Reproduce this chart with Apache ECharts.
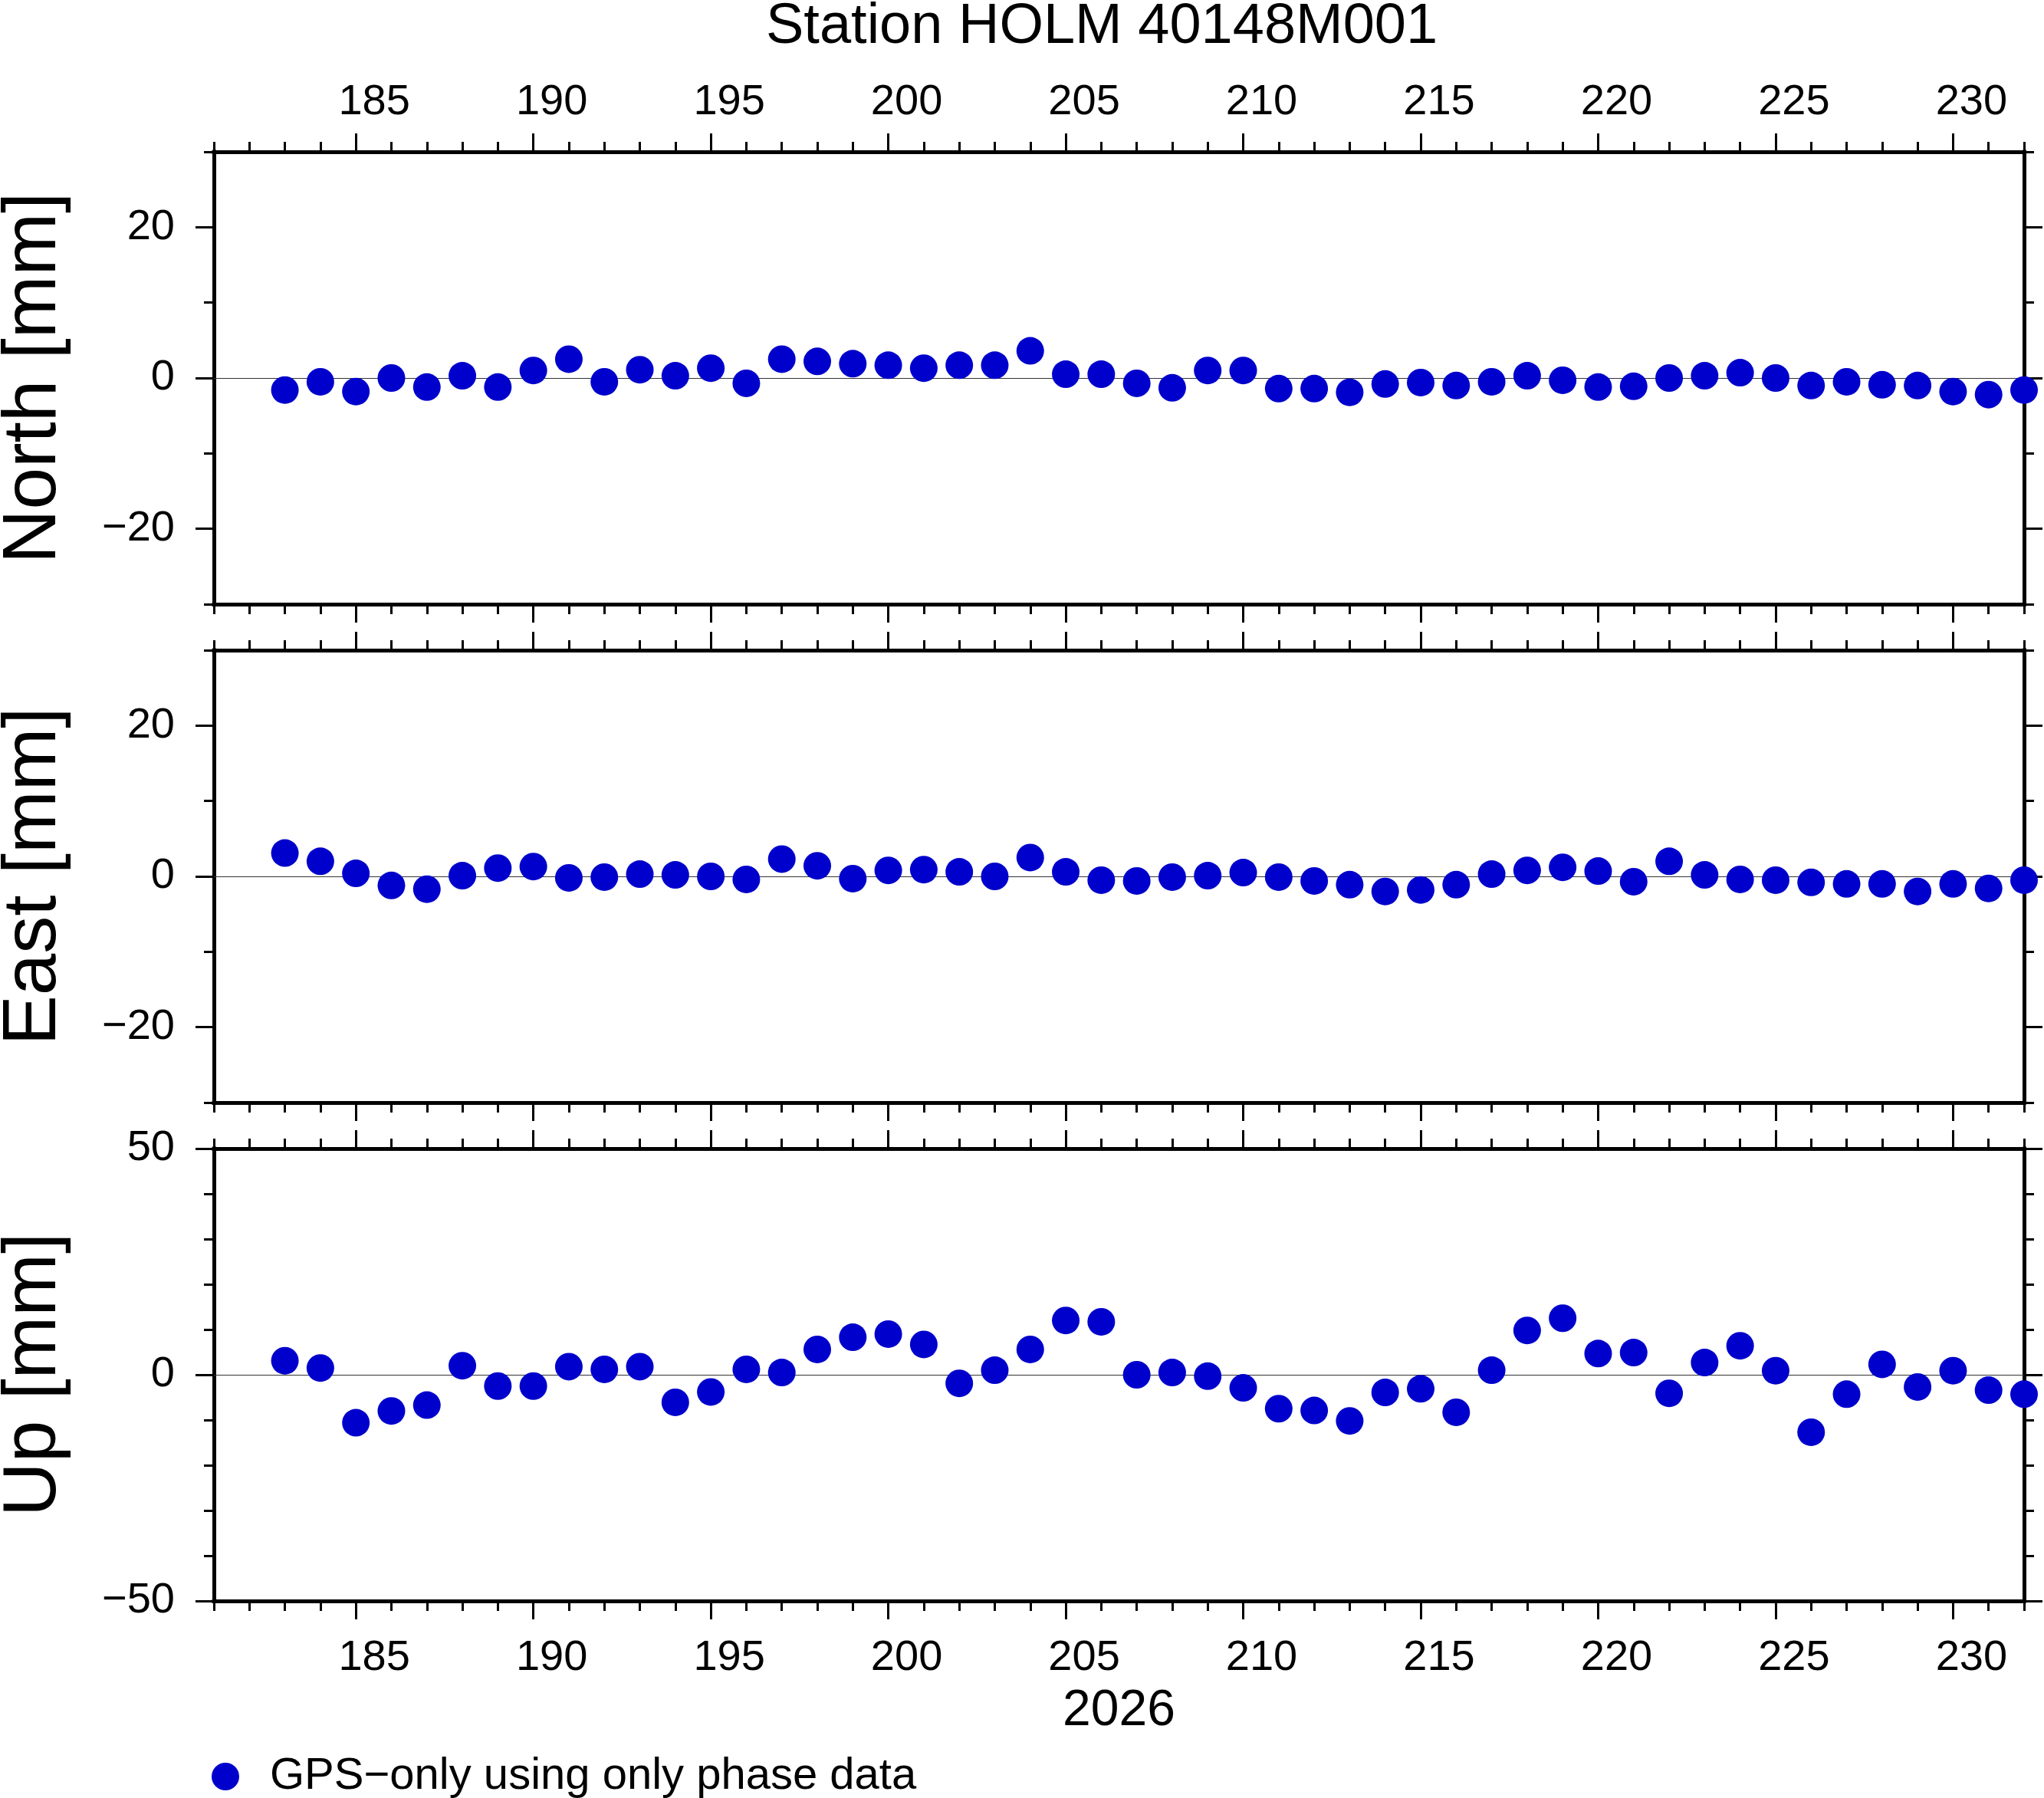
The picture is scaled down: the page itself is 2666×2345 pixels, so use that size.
<!DOCTYPE html>
<html>
<head>
<meta charset="utf-8">
<title>Station HOLM 40148M001</title>
<script src="https://cdn.jsdelivr.net/npm/echarts@6/dist/echarts.min.js"></script>
<style>
html, body { margin: 0; padding: 0; background: #fff; }
#chart { width: 2666px; height: 2345px; }
</style>
</head>
<body>
<div id="chart"></div>
<script>
var dom = document.getElementById("chart");
var myChart = echarts.init(dom);

// day of year 2026
var days = [183, 184, 185, 186, 187, 188, 189, 190, 191, 192,
    193, 194, 195, 196, 197, 198, 199, 200, 201, 202,
    203, 204, 205, 206, 207, 208, 209, 210, 211, 212,
    213, 214, 215, 216, 217, 218, 219, 220, 221, 222,
    223, 224, 225, 226, 227, 228, 229, 230, 231, 232];

var north = [-1.6, -0.5, -1.8, 0.0, -1.2, 0.3, -1.2, 1.0, 2.5, -0.5,
    1.1, 0.3, 1.3, -0.7, 2.5, 2.2, 1.9, 1.7, 1.3, 1.7,
    1.7, 3.6, 0.5, 0.5, -0.7, -1.3, 1.0, 1.0, -1.4, -1.4,
    -1.9, -0.8, -0.6, -1.0, -0.5, 0.3, -0.3, -1.2, -1.1, 0.0,
    0.3, 0.7, 0.0, -1.0, -0.5, -0.9, -1.0, -1.8, -2.2, -1.6];

var east = [3.1, 2.0, 0.4, -1.2, -1.7, 0.1, 1.1, 1.3, -0.2, -0.1,
    0.3, 0.2, 0.0, -0.4, 2.3, 1.4, -0.3, 0.8, 0.9, 0.6,
    0.0, 2.5, 0.6, -0.5, -0.6, -0.1, 0.1, 0.5, -0.1, -0.6,
    -1.1, -2.0, -1.8, -1.1, 0.3, 0.8, 1.2, 0.7, -0.7, 2.0,
    0.2, -0.4, -0.5, -0.8, -1.0, -1.0, -2.0, -1.0, -1.6, -0.5];

var up = [3.1, 1.5, -10.6, -8.0, -6.7, 2.0, -2.5, -2.5, 1.8, 1.2,
    1.8, -6.1, -3.8, 1.2, 0.5, 5.6, 8.3, 9.0, 6.7, -1.9,
    1.0, 5.6, 12.0, 11.7, 0.0, 0.5, -0.3, -2.9, -7.5, -7.9,
    -10.2, -3.9, -3.1, -8.3, 1.0, 9.8, 12.5, 4.7, 4.9, -4.1,
    2.7, 6.4, 0.9, -12.7, -4.3, 2.3, -2.7, 0.9, -3.4, -4.3];

var majorDays = [185, 190, 195, 200, 205, 210, 215, 220, 225, 230];
var panelNames = ['North [mm]', 'East [mm]', 'Up [mm]'];
var panelData = [north, east, up];
var panelRange = [30, 30, 50];
var panelMajor = [[-20, 0, 20], [-20, 0, 20], [-50, 0, 50]];

var FONT = 'Liberation Sans';
var gridTops = [198, 848, 1498];
var gridH = 590;

function minus(v) {
    return v < 0 ? '\u2212' + Math.abs(v) : String(v);
}

var grids = [], xAxes = [], yAxes = [], series = [];
var lineSt = { color: '#000', width: 5, cap: 'square' };

for (var i = 0; i < 3; i++) {
    grids.push({ left: 279, width: 2361, top: gridTops[i], height: gridH,
        containLabel: false, outerBoundsMode: 'none' });

    ['bottom', 'top'].forEach(function (pos) {
        var showLab = (pos === 'top' && i === 0) || (pos === 'bottom' && i === 2);
        // minor ticks every day + frame line
        xAxes.push({
            gridIndex: i, type: 'value', position: pos, min: 181, max: 232, interval: 1,
            axisLine: { show: true, onZero: false, lineStyle: lineSt },
            axisTick: { show: true, inside: false, length: 13, lineStyle: { color: '#000', width: 3 } },
            axisLabel: { show: false },
            splitLine: { show: false }
        });
        // major ticks every 5 days, labels centred on the day interval
        xAxes.push({
            gridIndex: i, type: 'value', position: pos, min: 181, max: 232,
            axisLine: { show: false, onZero: false },
            axisTick: { show: true, inside: false, length: 24, customValues: majorDays,
                lineStyle: { color: '#000', width: 3 } },
            axisLabel: { show: showLab, customValues: majorDays, margin: pos === 'top' ? 36 : 47,
                padding: [0, 0, 0, 48],
                fontFamily: FONT, fontSize: 56, color: '#000' },
            splitLine: { show: false },
            name: (pos === 'bottom' && i === 2) ? '2026' : '',
            nameLocation: 'middle', nameGap: 111,
            nameTextStyle: { fontFamily: FONT, fontSize: 66, color: '#000' }
        });
    });

    ['left', 'right'].forEach(function (pos) {
        var r = panelRange[i];
        yAxes.push({
            gridIndex: i, type: 'value', position: pos, min: -r, max: r, interval: 10,
            axisLine: { show: true, onZero: false, lineStyle: lineSt },
            axisTick: { show: true, inside: false, length: 13, lineStyle: { color: '#000', width: 3 } },
            axisLabel: { show: false },
            splitLine: { show: false }
        });
        yAxes.push({
            gridIndex: i, type: 'value', position: pos, min: -r, max: r,
            axisLine: { show: false, onZero: false },
            axisTick: { show: true, inside: false, length: 24, customValues: panelMajor[i],
                lineStyle: { color: '#000', width: 3 } },
            axisLabel: { show: pos === 'left', customValues: panelMajor[i], margin: 51,
                padding: [4, 0, 0, 0],
                formatter: minus, fontFamily: FONT, fontSize: 56, color: '#000' },
            splitLine: { show: false },
            name: pos === 'left' ? panelNames[i] : '',
            nameLocation: 'middle', nameGap: 185,
            nameTextStyle: { fontFamily: FONT, fontSize: 98, color: '#000' }
        });
    });

    var pts = [];
    for (var k = 0; k < days.length; k++) pts.push([days[k], panelData[i][k]]);

    series.push({
        name: 'GPS\u2212only using only phase data',
        type: 'scatter',
        xAxisIndex: i * 4,
        yAxisIndex: i * 4,
        data: pts,
        symbol: 'circle',
        symbolSize: 36,
        clip: false,
        itemStyle: { color: '#0000cc', opacity: 1 },
        markLine: {
            silent: true, z: 1,
            symbol: ['none', 'none'],
            label: { show: false },
            lineStyle: { color: '#333', width: 1.2, type: 'solid' },
            data: [{ yAxis: 0 }]
        }
    });
}

var option = {
    backgroundColor: '#fff',
    animation: false,
    title: {
        text: 'Station HOLM 40148M001',
        left: 994, top: -6,
        textStyle: { fontFamily: FONT, fontSize: 74, fontWeight: 'normal', color: '#000' }
    },
    legend: {
        left: 271, top: 2283,
        itemWidth: 36, itemHeight: 36, icon: 'circle',
        itemStyle: { opacity: 1 },
        textStyle: { fontFamily: FONT, fontSize: 58, color: '#000', padding: [0, 0, 0, 35] },
        data: ['GPS\u2212only using only phase data']
    },
    grid: grids,
    xAxis: xAxes,
    yAxis: yAxes,
    series: series
};

myChart.setOption(option);
window.onresize = function () {
    myChart.resize();
};
</script>
</body>
</html>
